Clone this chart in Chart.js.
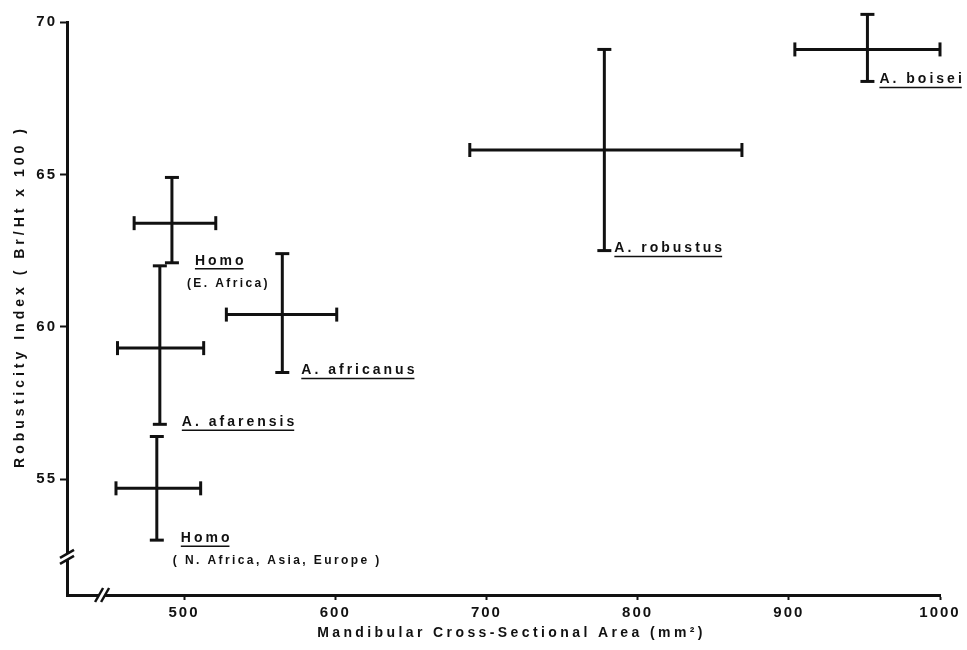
<!DOCTYPE html>
<html>
<head>
<meta charset="utf-8">
<script src="https://cdn.jsdelivr.net/npm/chart.js@4.4.1/dist/chart.umd.min.js"></script>
<style>
  html, body { margin: 0; padding: 0; background: #fff; }
  #wrap { width: 967px; height: 650px; }
</style>
</head>
<body>
<div id="wrap"><canvas id="myChart"></canvas></div>
<script>
//Values: mean and range for each group
const species = ['Homo', 'A. afarensis', 'Homo', 'A. africanus', 'A. robustus', 'A. boisei'];
const subLabels = ['(E. Africa)', '', '( N. Africa, Asia, Europe )', '', '', ''];

const areaMean = [492, 484, 482, 565, 778, 952];
const areaLow = [467, 456, 455, 528, 689, 904];
const areaHigh = [521, 513, 511, 601, 869, 1000];

const robMean = [63.4, 59.3, 54.7, 60.4, 65.8, 69.1];
const robLow = [62.1, 56.8, 53.0, 58.5, 62.5, 68.05];
const robHigh = [64.9, 62.0, 56.4, 62.4, 69.1, 70.25];

const xTicks = [500, 600, 700, 800, 900, 1000];
const yTicks = [55, 60, 65, 70];

const xTitle = 'Mandibular Cross-Sectional Area (mm²)';
const yTitle = 'Robusticity Index ( Br/Ht x 100 )';

//axis ranges + where the "//" breaks sit
const xMin = 422.6, xMax = 1000, xBreak = 445.8;
const yMin = 51.2, yMax = 70, yBreak = 52.45;

//style bits
const ink = '#111';
const labelDx = [23, 22, 24, 19, 10, 12]; //px right of the vertical bar
const fontFam = '"Liberation Sans", Arial, sans-serif';

//Build one dataset for each bar of every cross
let datasets = [];
species.forEach(function (s, i) {
  //horizontal bar (area range)
  datasets.push({
    label: s + ' area',
    data: [{ x: areaLow[i], y: robMean[i] }, { x: areaHigh[i], y: robMean[i] }],
    showLine: true,
    borderColor: ink,
    borderWidth: 3,
    pointStyle: 'line',
    rotation: 90,
    pointRadius: 7,
    pointBorderWidth: 3,
    pointBorderColor: ink,
    clip: false
  });
  //vertical bar (robusticity range)
  datasets.push({
    label: s + ' index',
    data: [{ x: areaMean[i], y: robLow[i] }, { x: areaMean[i], y: robHigh[i] }],
    showLine: true,
    borderColor: ink,
    borderWidth: 3,
    pointStyle: 'line',
    rotation: 0,
    pointRadius: 7,
    pointBorderWidth: 3,
    pointBorderColor: ink,
    clip: false
  });
});

//letter spacing for the tick numbers
const spacing = {
  id: 'spacing',
  beforeDraw(chart) {
    chart.ctx.letterSpacing = '2px';
  }
};

//species names under each cross
const speciesLabels = {
  id: 'speciesLabels',
  afterDatasetsDraw(chart) {
    const ctx = chart.ctx;
    const x = chart.scales.x, y = chart.scales.y;
    ctx.save();
    ctx.fillStyle = ink;
    ctx.strokeStyle = ink;
    ctx.textBaseline = 'middle';
    ctx.textAlign = 'left';
    species.forEach(function (s, i) {
      const px = x.getPixelForValue(areaMean[i]) + labelDx[i];
      const py = y.getPixelForValue(robLow[i]) - 2;
      ctx.font = 'bold 14px ' + fontFam;
      ctx.letterSpacing = '3px';
      ctx.fillText(s, px, py);
      const w = ctx.measureText(s).width - 3;
      ctx.lineWidth = 1.5;
      ctx.beginPath();
      ctx.moveTo(px, py + 8);
      ctx.lineTo(px + w, py + 8);
      ctx.stroke();
      if (subLabels[i]) {
        ctx.font = 'bold 12px ' + fontFam;
        ctx.letterSpacing = '2.4px';
        ctx.fillText(subLabels[i], px - 8, py + 23);
      }
    });
    ctx.restore();
  }
};

//axis titles drawn by hand so the wide letter spacing can be set
const axisTitles = {
  id: 'axisTitles',
  afterDraw(chart) {
    const ctx = chart.ctx;
    const area = chart.chartArea;
    ctx.save();
    ctx.fillStyle = ink;
    ctx.font = 'bold 14px ' + fontFam;
    ctx.textAlign = 'center';
    ctx.textBaseline = 'middle';
    ctx.letterSpacing = '3.4px';
    ctx.fillText(xTitle, (area.left + area.right) / 2 + 8, 633);
    ctx.translate(20, (area.top + area.bottom) / 2 - 12);
    ctx.rotate(-Math.PI / 2);
    ctx.letterSpacing = '4px';
    ctx.fillText(yTitle, 0, 0);
    ctx.restore();
  }
};

//the two axis breaks
const axisBreaks = {
  id: 'axisBreaks',
  afterDraw(chart) {
    const ctx = chart.ctx;
    const area = chart.chartArea;
    const bx = chart.scales.x.getPixelForValue(xBreak);
    const by = chart.scales.y.getPixelForValue(yBreak);
    ctx.save();
    ctx.fillStyle = '#fff';
    ctx.strokeStyle = ink;
    ctx.lineWidth = 2.5;
    //x axis
    ctx.fillRect(bx - 3, area.bottom - 3, 6, 6);
    [-3, 3].forEach(function (d) {
      ctx.beginPath();
      ctx.moveTo(bx + d - 4, area.bottom + 7);
      ctx.lineTo(bx + d + 4, area.bottom - 7);
      ctx.stroke();
    });
    //y axis
    ctx.fillRect(area.left - 3, by - 3, 6, 6);
    [-3, 3].forEach(function (d) {
      ctx.beginPath();
      ctx.moveTo(area.left - 7, by + d + 4);
      ctx.lineTo(area.left + 7, by + d - 4);
      ctx.stroke();
    });
    ctx.restore();
  }
};

const ctx = document.getElementById('myChart').getContext('2d');
const myChart = new Chart(ctx, {
  type: 'scatter',
  data: { datasets: datasets },
  options: {
    responsive: true,
    maintainAspectRatio: false,
    animation: false,
    devicePixelRatio: 1,
    layout: { padding: { top: 22, right: 27, left: 0, bottom: 0 } },
    plugins: {
      legend: { display: false },
      tooltip: { enabled: false }
    },
    scales: {
      x: {
        type: 'linear',
        min: xMin,
        max: xMax,
        afterBuildTicks: function (s) { s.ticks = xTicks.map(function (v) { return { value: v }; }); },
        afterFit: function (s) { s.height = 55; },
        grid: { display: true, drawOnChartArea: false, drawTicks: true, tickLength: 5, tickWidth: 2, tickColor: ink },
        border: { display: true, color: ink, width: 3 },
        ticks: {
          color: ink,
          font: { family: fontFam, size: 15, weight: 'bold' },
          padding: 4,
          maxRotation: 0,
          autoSkip: false,
          callback: function (v) { return String(v); }
        },
        title: { display: false }
      },
      y: {
        type: 'linear',
        min: yMin,
        max: yMax,
        afterBuildTicks: function (s) { s.ticks = yTicks.map(function (v) { return { value: v }; }); },
        afterFit: function (s) { s.width = 67; },
        grid: { display: true, drawOnChartArea: false, drawTicks: true, tickLength: 7, tickWidth: 2, tickColor: ink },
        border: { display: true, color: ink, width: 3 },
        ticks: {
          color: ink,
          font: { family: fontFam, size: 15, weight: 'bold' },
          padding: 3,
          autoSkip: false,
          callback: function (v) { return String(v); }
        },
        title: { display: false }
      }
    }
  },
  plugins: [spacing, speciesLabels, axisTitles, axisBreaks]
});
</script>
</body>
</html>
